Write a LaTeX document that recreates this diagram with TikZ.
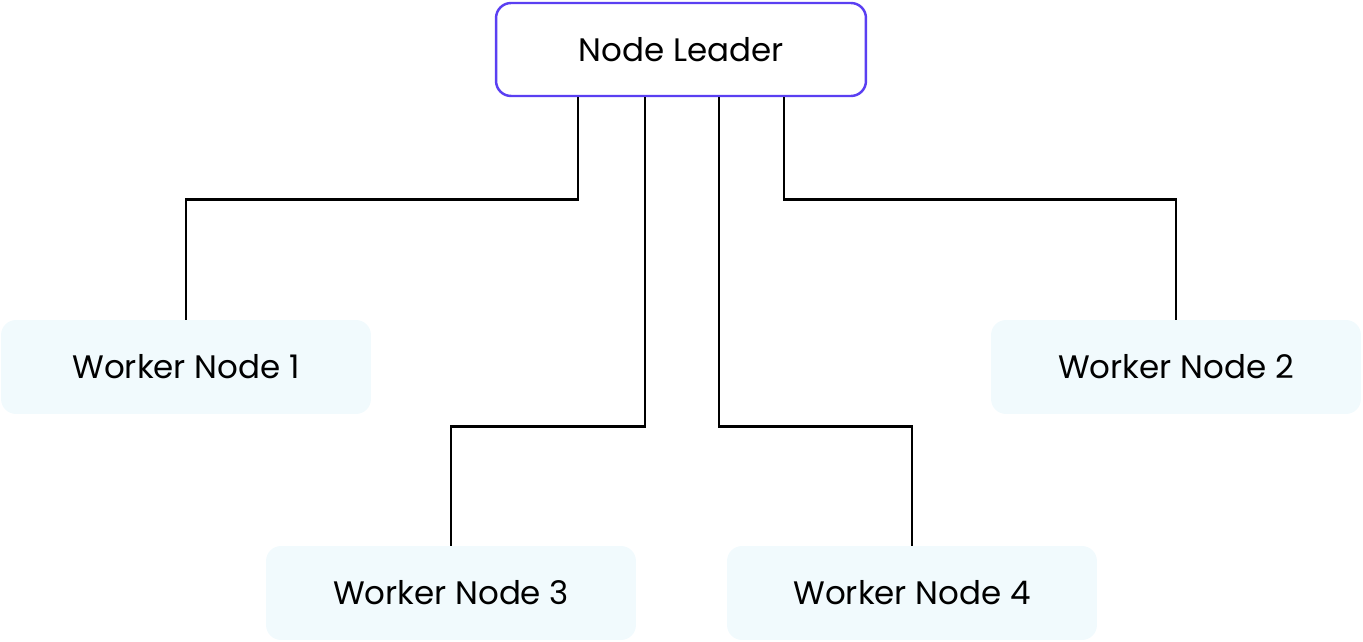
\documentclass[tikz,border=0pt]{standalone}
\usepackage{fontspec}
\setmainfont{Poppins}
\usetikzlibrary{positioning}
\definecolor{leaderpurple}{HTML}{5A3FF2}
\definecolor{workerblue}{HTML}{F1FAFD}

\begin{document}
\begin{tikzpicture}[x=0.02cm,y=-0.02cm,
    leader/.style={draw=leaderpurple,line width=1.4pt,rounded corners=0.3cm,fill=white,minimum width=7.4cm,minimum height=1.86cm,font=\fontsize{18.5}{22}\selectfont},
    worker/.style={fill=workerblue,rounded corners=0.3cm,minimum width=7.4cm,minimum height=1.88cm,font=\fontsize{18.5}{22}\selectfont},
    link/.style={line width=1.6pt,line join=miter}]
    \useasboundingbox (0,0) rectangle (1363,642);

    % Nodes
    \node[leader] (lead) at (681,49.5) {Node Leader};
    \node[worker] (w1) at (186,367) {Worker Node 1};
    \node[worker] (w2) at (1176,367) {Worker Node 2};
    \node[worker] (w3) at (451,593) {Worker Node 3};
    \node[worker] (w4) at (912,593) {Worker Node 4};

    % Links
    \draw[link] ([xshift=-2.06cm]lead.south) -- ++(0,102) -| (w1.north);
    \draw[link] ([xshift=-0.72cm]lead.south) -- ++(0,329) -| (w3.north);
    \draw[link] ([xshift=0.76cm]lead.south) -- ++(0,329) -| (w4.north);
    \draw[link] ([xshift=2.06cm]lead.south) -- ++(0,102) -| (w2.north);
\end{tikzpicture}
\end{document}
